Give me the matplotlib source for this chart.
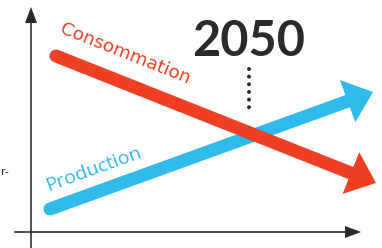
import numpy as np
import matplotlib
matplotlib.use("Agg")
import matplotlib.pyplot as plt
from matplotlib.patches import Polygon

# Schematic values, in pixel units of the 382x248 canvas (y grows downward)
conso_x = [56, 376]
conso_y = [56, 183]
prod_x = [50, 373]
prod_y = [209, 92]
annee = "2050"
annee_x = 249
annee_dots_y = [69, 108.5]
origin = (31, 232)
xaxis_end = 361
yaxis_end = 7

RED = "#ee3f24"; BLUE = "#30b9eb"; INK = "#2c292b"

fig = plt.figure(figsize=(3.82, 2.48), dpi=100)
ax = fig.add_axes([0, 0, 1, 1])
ax.set_xlim(0, 382); ax.set_ylim(248, 0)
ax.axis("off")

PX = 72 / 100  # points per pixel


def big_arrow(xs, ys, color, lw=13, head_len=27, head_w=45):
    p0 = np.array([xs[0], ys[0]], float); p1 = np.array([xs[1], ys[1]], float)
    d = (p1 - p0) / np.linalg.norm(p1 - p0)
    n = np.array([-d[1], d[0]])
    base = p1 - d * head_len
    ax.plot([p0[0], base[0]], [p0[1], base[1]], color=color, lw=lw * PX,
            solid_capstyle="round", zorder=2)
    ax.add_patch(Polygon([p1, base + n * head_w / 2, base - n * head_w / 2],
                         closed=True, color=color, lw=0, zorder=2))


def thin_arrow(p0, p1, head_len=16, head_w=12):
    p0 = np.array(p0, float); p1 = np.array(p1, float)
    d = (p1 - p0) / np.linalg.norm(p1 - p0)
    n = np.array([-d[1], d[0]])
    base = p1 - d * head_len
    ax.plot([p0[0], base[0]], [p0[1], base[1]], color=INK, lw=1.6 * PX, zorder=1)
    ax.add_patch(Polygon([p1, base + n * head_w / 2, base - n * head_w / 2],
                         closed=True, color=INK, lw=0, zorder=1))


# axes
thin_arrow((15, origin[1]), (xaxis_end, origin[1]))
thin_arrow((origin[0], 248), (origin[0], yaxis_end))

# trends
big_arrow(prod_x, prod_y, BLUE)
big_arrow(conso_x, conso_y, RED)

ang_c = -np.degrees(np.arctan2(conso_y[1] - conso_y[0], conso_x[1] - conso_x[0]))
ang_p = -np.degrees(np.arctan2(prod_y[1] - prod_y[0], prod_x[1] - prod_x[0]))
ax.text(125, 54, "Consommation", color=RED, fontsize=13.2, family="DejaVu Sans",
        rotation=ang_c, rotation_mode="anchor", ha="center", va="center")
ax.text(94, 169, "Production", color=BLUE, fontsize=14, family="Open Sans",
        rotation=ang_p, rotation_mode="anchor", ha="center", va="center")

# 2050 marker
ax.text(annee_x, 41, annee, color=INK, fontsize=35, family="Lato",
        fontweight="bold", ha="center", va="center")
ax.plot([annee_x, annee_x], annee_dots_y, color=INK, lw=4 * PX,
        linestyle=(0, (0.01, 1.9)), dash_capstyle="round", zorder=3)

# small leftover label at the left edge
ax.text(1, 172, "r-", color=INK, fontsize=8, ha="left", va="center")

fig.savefig("out.png", dpi=100)
